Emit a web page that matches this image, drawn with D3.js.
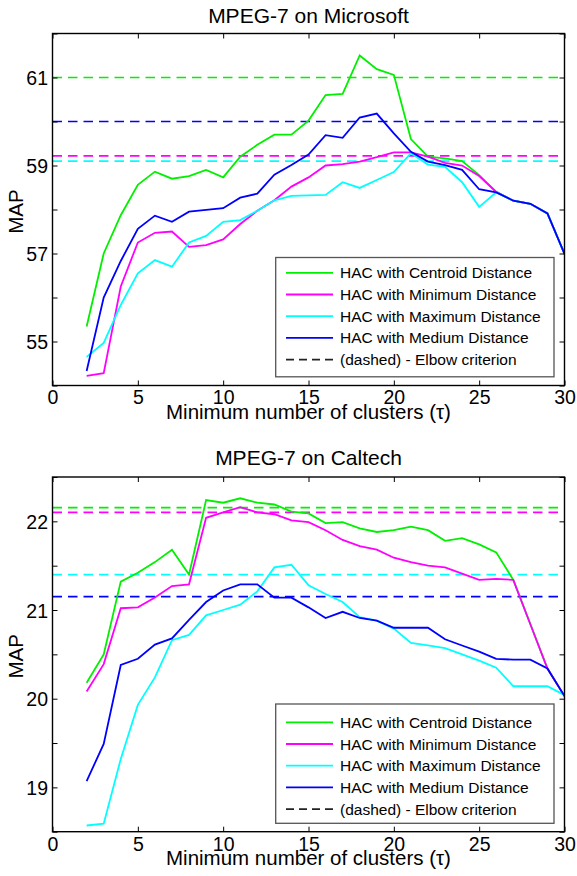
<!DOCTYPE html>
<html><head><meta charset="utf-8">
<script src="https://cdn.jsdelivr.net/npm/d3@7"></script>
<style>
body{margin:0;background:#fff;}
text{font-family:"Liberation Sans",Arial,sans-serif;fill:#000;}
</style></head>
<body><svg id="c" width="577" height="876"></svg>
<script>
const xValues = [2,3,4,5,6,7,8,9,10,11,12,13,14,15,16,17,18,19,20,21,22,23,24,25,26,27,28,29,30];
const xTicks = [0,5,10,15,20,25,30];
const seriesNames = ["HAC with Centroid Distance","HAC with Minimum Distance","HAC with Maximum Distance","HAC with Medium Distance"];
const legendDashedLabel = "(dashed) - Elbow criterion";

// MPEG-7 on Microsoft
const msCentroid = [55.34,57.0,57.87,58.56,58.86,58.70,58.76,58.90,58.73,59.20,59.47,59.70,59.70,60.02,60.60,60.63,61.50,61.19,61.06,59.60,59.20,59.16,59.10,58.78,58.40,58.20,58.13,57.91,56.99];
const msMinimum  = [54.22,54.28,56.25,57.25,57.47,57.50,57.15,57.19,57.32,57.67,57.97,58.21,58.52,58.73,59.00,59.03,59.09,59.19,59.30,59.30,59.20,59.06,59.00,58.76,58.40,58.20,58.13,57.91,56.99];
const msMaximum  = [54.65,54.97,55.83,56.55,56.85,56.70,57.25,57.40,57.72,57.76,57.97,58.21,58.31,58.32,58.33,58.62,58.49,58.67,58.85,59.28,59.02,58.97,58.62,58.06,58.39,58.20,58.13,57.91,56.99];
const msMedium   = [54.33,56.0,56.83,57.56,57.86,57.72,57.95,57.99,58.03,58.27,58.36,58.79,59.01,59.25,59.69,59.63,60.09,60.18,59.73,59.31,59.09,59.01,58.90,58.46,58.39,58.20,58.13,57.91,56.99];
const msElbow    = [61.0,59.22,59.10,60.0];
const msYTicks   = [54,55,56,57,58,59,60,61,62];
const msYLabels  = [55,57,59,61];

// MPEG-7 on Caltech
const ctCentroid = [20.18,20.50,21.32,21.42,21.54,21.68,21.40,22.24,22.21,22.26,22.21,22.19,22.11,22.09,21.98,21.99,21.92,21.88,21.90,21.94,21.90,21.78,21.81,21.74,21.65,21.34,20.84,20.34,20.03];
const ctMinimum  = [20.08,20.39,21.02,21.03,21.14,21.27,21.29,22.04,22.10,22.16,22.10,22.08,22.01,21.99,21.90,21.79,21.72,21.68,21.59,21.54,21.50,21.48,21.41,21.34,21.35,21.34,20.84,20.34,20.03];
const ctMaximum  = [18.57,18.59,19.32,19.93,20.24,20.66,20.72,20.94,21.00,21.06,21.21,21.48,21.51,21.28,21.18,21.09,20.92,20.88,20.79,20.63,20.60,20.57,20.50,20.43,20.35,20.14,20.14,20.14,20.04];
const ctMedium   = [19.07,19.49,20.38,20.45,20.61,20.68,20.89,21.09,21.22,21.29,21.29,21.14,21.14,21.03,20.91,20.98,20.91,20.88,20.80,20.80,20.80,20.67,20.60,20.53,20.45,20.44,20.44,20.34,20.03];
const ctElbow    = [22.155,22.10,21.40,21.15];
const ctYTicks   = [18.5,19,19.5,20,20.5,21,21.5,22,22.5];
const ctYLabels  = [19,20,21,22];

const colors = ["#00f000","#ff00ff","#00ffff","#0000ff"];
const svg = d3.select("#c");

function drawChart(cfg){
  const L=52.5, R=564.5, T=cfg.top, B=cfg.bottom;
  const x = d3.scaleLinear().domain([0,30]).range([L,R]);
  const y = d3.scaleLinear().domain(cfg.yDomain).range([B,T]);
  const g = svg.append("g");

  g.append("text").attr("x",(L+R)/2).attr("y",cfg.titleY).attr("text-anchor","middle")
    .style("font-size","21px").text(cfg.title);

  const clipId = "clip"+cfg.id;
  svg.append("clipPath").attr("id",clipId).append("rect").attr("x",L).attr("y",T).attr("width",R-L).attr("height",B-T);
  const plot = g.append("g").attr("clip-path","url(#"+clipId+")");

  cfg.elbow.forEach((v,i)=>{
    plot.append("line").attr("x1",L).attr("x2",R).attr("y1",y(v)).attr("y2",y(v))
      .attr("stroke",colors[i]).attr("stroke-width",1.7).attr("stroke-dasharray","9.5,6");
  });
  const line = d3.line().x((d,i)=>x(xValues[i])).y(d=>y(d));
  cfg.series.forEach((s,i)=>{
    plot.append("path").datum(s).attr("d",line).attr("fill","none")
      .attr("stroke",colors[i]).attr("stroke-width",1.8).attr("stroke-linejoin","miter");
  });

  const fmt = v => cfg.yLabels.includes(v) ? String(v) : "";
  const ax = g.append("g").attr("transform",`translate(0,${B})`)
    .call(d3.axisBottom(x).tickValues(xTicks).tickSize(-5).tickPadding(5).tickFormat(d3.format("d")));
  const axTop = g.append("g").attr("transform",`translate(0,${T})`)
    .call(d3.axisTop(x).tickValues(xTicks).tickSize(-5).tickFormat(""));
  const ay = g.append("g").attr("transform",`translate(${L},0)`)
    .call(d3.axisLeft(y).tickValues(cfg.yTicks).tickSize(-5).tickPadding(4.5).tickFormat(fmt));
  const ayR = g.append("g").attr("transform",`translate(${R},0)`)
    .call(d3.axisRight(y).tickValues(cfg.yTicks).tickSize(-5).tickFormat(""));
  [ax,axTop,ay,ayR].forEach(a=>{
    a.select(".domain").remove();
    a.selectAll("line").attr("stroke","#000").attr("stroke-width",1);
    a.selectAll("text").style("font-size","19.5px").style("font-family","'Liberation Sans',Arial,sans-serif").attr("fill","#000");
  });
  ay.selectAll("text").attr("dy","0.36em");
  g.append("rect").attr("x",L).attr("y",T).attr("width",R-L).attr("height",B-T)
    .attr("fill","none").attr("stroke","#000").attr("stroke-width",1.4);

  g.append("text").attr("x",(L+R)/2).attr("y",cfg.xLabelY).attr("text-anchor","middle")
    .style("font-size","20.5px").text("Minimum number of clusters (\u03c4)");
  g.append("text").attr("transform",`translate(23,${(T+B)/2+2}) rotate(-90)`).attr("text-anchor","middle")
    .style("font-size","20.5px").text("MAP");

  const lg = g.append("g");
  lg.append("rect").attr("x",275.7).attr("y",cfg.legTop).attr("width",278.3).attr("height",119.3)
    .attr("fill","#fff").attr("stroke","#555").attr("stroke-width",1.3);
  const labels = seriesNames.concat([legendDashedLabel]);
  labels.forEach((t,i)=>{
    const yy = cfg.legTop + cfg.legRow0 + 21.7*i;
    lg.append("line").attr("x1",286).attr("x2",333).attr("y1",yy).attr("y2",yy)
      .attr("stroke", i<4?colors[i]:"#222").attr("stroke-width",1.8)
      .attr("stroke-dasharray", i<4?null:"8,5");
    lg.append("text").attr("x",340).attr("y",yy+5.5).style("font-size","15.5px").text(t);
  });
}

drawChart({id:1,title:"MPEG-7 on Microsoft",titleY:23,top:33.5,bottom:385.5,yDomain:[54,62],
  yTicks:msYTicks,yLabels:msYLabels,elbow:msElbow,series:[msCentroid,msMinimum,msMaximum,msMedium],
  xLabelY:419,legTop:257.5,legRow0:15.3});
drawChart({id:2,title:"MPEG-7 on Caltech",titleY:465,top:477,bottom:831.7,yDomain:[18.5,22.5],
  yTicks:ctYTicks,yLabels:ctYLabels,elbow:ctElbow,series:[ctCentroid,ctMinimum,ctMaximum,ctMedium],
  xLabelY:865,legTop:704,legRow0:18.3});
</script></body></html>
